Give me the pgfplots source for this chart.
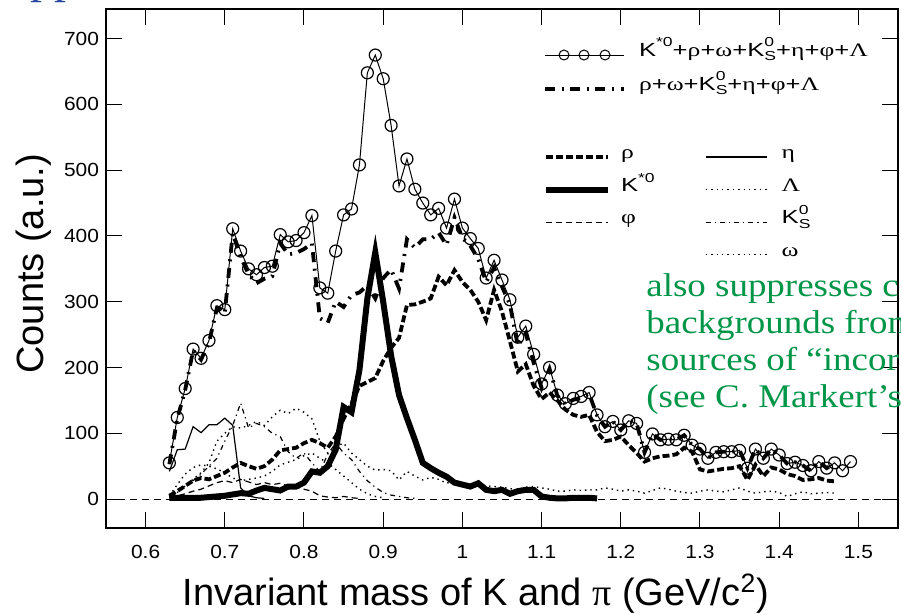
\documentclass[border=0pt]{standalone}
\usepackage{fontspec}
\setmainfont{Liberation Sans}
\newfontfamily\gr{Liberation Serif}
\newfontfamily\tickfont[FakeStretch=1.1]{Liberation Sans}
\newfontfamily\legfont[FakeStretch=1.35]{Liberation Sans}
\newfontfamily\leggr[FakeStretch=1.35]{Liberation Serif}
\newfontfamily\grnfont[FakeStretch=1.12]{Liberation Serif}
\usepackage{pgfplots}
\pgfplotsset{compat=1.18}
\definecolor{slidegreen}{RGB}{0,150,72}
\definecolor{slideblue}{RGB}{40,70,160}
\newcommand{\g}[1]{{\leggr #1}}
\newcommand{\ssz}{\fontsize{6.5}{6.5}\selectfont}
\newcommand{\Kst}{K\raisebox{0.9ex}{\ssz *0}}
\newcommand{\KS}{K\makebox[0pt][l]{\raisebox{0.9ex}{\ssz 0}}\raisebox{-0.45ex}{\ssz S}}
\begin{document}
\begin{tikzpicture}
\begin{axis}[
  scale only axis, width=396pt, height=259.5pt,
  xmin=0.55, xmax=1.55, ymin=-44, ymax=745,
  xtick={0.6,0.7,0.8,0.9,1,1.1,1.2,1.3,1.4,1.5},
  xticklabels={0.6,0.7,0.8,0.9,1,1.1,1.2,1.3,1.4,1.5},
  ytick={0,100,200,300,400,500,600,700},
  tick align=inside, major tick length=8pt,
  every tick/.style={black, line width=0.5pt},
  axis line style={line width=1.4pt},
  /pgf/number format/assume math mode=true,
  ticklabel style={font=\tickfont\fontsize{9.5}{9.5}\selectfont},
  xticklabel style={yshift=-5.2pt},
  xlabel={Invariant mass of K and {\gr π} (GeV/c\textsuperscript{2})},
  ylabel={Counts (a.u.)},
  label style={font=\fontsize{19}{19}\selectfont},
  xlabel style={at={(axis description cs:0.467,-0.1484)}, anchor=base},
  ylabel style={at={(axis description cs:-0.0792,0.509)}, anchor=base},
  clip mode=individual,
  legend cell align=left,
  legend style={draw=none, fill=none, inner sep=0pt, outer sep=0pt, row sep=0pt, column sep=0pt,
    at={(axis description cs:0.5518,0.9441)}, anchor=north west,
    font=\legfont\fontsize{9.5}{9.5}\selectfont,
    nodes={inner sep=0pt, text height=9pt, text depth=8pt}},
]
\coordinate (SW) at (rel axis cs:0,0);
\coordinate (NE) at (rel axis cs:1,1);
% zero line
\addplot[forget plot, black, line width=0.5pt, dash pattern=on 3.5pt off 2.5pt] coordinates {(0.55,0) (1.55,0)};
% eta (thin solid)
\addplot[forget plot, black, line width=0.6pt] coordinates {
(0.63,42)(0.64,75)(0.65,76)(0.66,110)(0.67,101)(0.68,113)(0.69,113)(0.70,123)(0.71,112)(0.72,17)(0.73,5)(0.74,2)(0.75,1)};
% phi (thin dashed)
\addplot[forget plot, black, line width=0.6pt, dash pattern=on 3pt off 2pt] coordinates {
(0.63,2)(0.64,5)(0.65,8)(0.66,12)(0.67,15)(0.68,20)(0.69,25)(0.70,28)(0.71,25)(0.72,30)(0.73,26)(0.74,22)(0.75,25)(0.76,22)(0.77,24)(0.78,20)(0.79,18)(0.80,15)(0.81,12)(0.82,5)(0.83,3)(0.84,2)(0.85,4)(0.86,2)(0.87,1)};
% K0S (thin dash-dot)
\addplot[forget plot, black, line width=0.6pt, dash pattern=on 2.5pt off 2pt on 0.6pt off 2pt] coordinates {
(0.63,3)(0.64,10)(0.65,20)(0.66,28)(0.67,38)(0.68,50)(0.69,62)(0.70,88)(0.71,112)(0.72,146)(0.73,108)(0.74,115)(0.75,110)(0.76,100)(0.77,95)(0.78,72)(0.79,62)(0.80,70)(0.81,55)(0.82,42)(0.83,68)(0.84,85)(0.85,70)(0.86,60)(0.87,42)(0.88,28)(0.89,18)(0.90,10)(0.91,6)(0.92,4)(0.93,2)(0.94,1)};
% Lambda (dotted)
\addplot[forget plot, black, line width=0.7pt, dash pattern=on 0.7pt off 2pt] coordinates {
(0.63,5)(0.64,22)(0.65,38)(0.66,48)(0.67,52)(0.68,50)(0.69,46)(0.70,40)(0.71,32)(0.72,28)(0.73,30)(0.74,32)(0.75,35)(0.76,42)(0.77,52)(0.78,56)(0.79,60)(0.80,66)(0.81,70)(0.82,62)(0.83,55)(0.84,45)(0.85,35)(0.86,25)(0.87,15)(0.88,8)(0.89,4)(0.90,2)};
% omega (dotted)
\addplot[forget plot, black, line width=0.7pt, dash pattern=on 0.7pt off 2pt] coordinates {
(0.63,5)(0.64,12)(0.65,20)(0.66,30)(0.67,40)(0.68,55)(0.69,88)(0.70,100)(0.71,110)(0.72,108)(0.73,112)(0.74,118)(0.75,112)(0.76,125)(0.77,135)(0.78,130)(0.79,138)(0.80,132)(0.81,122)(0.82,88)(0.83,70)(0.84,80)(0.85,85)(0.86,70)(0.87,60)(0.88,50)(0.89,44)(0.90,45)(0.91,43)(0.92,29)(0.93,42)(0.94,35)(0.95,29)(0.96,33)(0.97,30)(0.98,24)(0.99,28)(1.00,25)
(1.01,22)(1.02,24)(1.03,20)(1.04,19)(1.05,18)(1.06,16)(1.07,14)(1.08,18)(1.09,19)(1.10,17)(1.11,15)(1.12,12)(1.13,12)(1.14,14)(1.15,13)(1.16,14)(1.17,14)(1.18,17)(1.19,15)(1.20,12)(1.21,14)(1.22,12)(1.23,9)(1.24,13)(1.25,17)(1.26,15)(1.27,12)(1.28,10)(1.29,9)(1.30,12)(1.31,14)(1.32,12)(1.33,11)(1.34,14)(1.35,17)(1.36,12)(1.37,9)(1.38,11)(1.39,12)(1.40,10)(1.41,4)(1.42,8)(1.43,11)(1.44,8)(1.45,9)(1.46,10)(1.47,9)};
% rho (thick dashed)
\addplot[forget plot, black, line width=1.9pt, dash pattern=on 3.5pt off 1.5pt] coordinates {
(0.63,5)(0.64,12)(0.65,20)(0.66,28)(0.67,32)(0.68,30)(0.69,35)(0.70,40)(0.71,48)(0.72,55)(0.73,50)(0.74,46)(0.75,50)(0.76,60)(0.77,74)(0.78,76)(0.79,78)(0.80,85)(0.81,90)(0.82,85)(0.83,78)(0.84,95)(0.85,122)(0.86,145)(0.87,172)(0.88,178)(0.89,184)(0.90,210)(0.91,230)(0.92,245)(0.93,295)(0.94,296)(0.95,300)(0.96,305)(0.97,338)(0.98,325)(0.99,348)(1.00,330)(1.01,318)(1.02,300)(1.03,272)(1.04,318)(1.05,285)(1.06,240)(1.07,194)(1.08,205)(1.09,172)(1.10,152)(1.11,162)(1.12,150)(1.13,136)(1.14,128)(1.15,125)(1.16,128)(1.17,102)(1.18,88)(1.19,90)(1.20,95)(1.21,82)(1.22,70)(1.23,57)(1.24,62)(1.25,65)(1.26,66)(1.27,68)(1.28,78)(1.29,72)(1.30,45)(1.31,42)(1.32,44)(1.33,46)(1.34,47)(1.35,50)(1.36,29)(1.37,52)(1.38,35)(1.39,48)(1.40,45)(1.41,38)(1.42,35)(1.43,29)(1.44,30)(1.45,32)(1.46,28)(1.47,27)};
% background sum (thick dash-dot)
\addplot[forget plot, black, line width=1.9pt, dash pattern=on 5pt off 3.3pt on 1pt off 3.3pt] coordinates {
(0.63,53)(0.64,122)(0.65,166)(0.66,226)(0.67,212)(0.68,238)(0.69,290)(0.70,283)(0.71,404)(0.72,368)(0.73,342)(0.74,328)(0.75,335)(0.76,339)(0.77,389)(0.78,372)(0.79,374)(0.80,380)(0.81,389)(0.82,275)(0.83,268)(0.84,300)(0.85,292)(0.86,310)(0.87,314)(0.88,325)(0.89,305)(0.90,336)(0.91,349)(0.92,320)(0.93,395)(0.94,382)(0.95,395)(0.96,395)(0.97,405)(0.98,386)(0.99,428)(1.00,397)(1.01,385)(1.02,365)(1.03,330)(1.04,352)(1.05,323)(1.06,296)(1.07,233)(1.08,252)(1.09,207)(1.10,169)(1.11,198)(1.12,157)(1.13,144)(1.14,151)(1.15,154)(1.16,160)(1.17,127)(1.18,110)(1.19,118)(1.20,105)(1.21,119)(1.22,115)(1.23,71)(1.24,99)(1.25,90)(1.26,91)(1.27,90)(1.28,97)(1.29,82)(1.30,76)(1.31,62)(1.32,71)(1.33,72)(1.34,72)(1.35,74)(1.36,47)(1.37,76)(1.38,62)(1.39,76)(1.40,67)(1.41,54)(1.42,56)(1.43,51)(1.44,43)(1.45,57)(1.46,47)(1.47,55)};
% K*0 (very thick solid)
\addplot[forget plot, black, line width=3pt] coordinates {
(0.63,2)(0.64,2)(0.65,2)(0.66,2)(0.67,2)(0.68,3)(0.69,4)(0.70,5)(0.71,7)(0.72,9)(0.73,8)(0.74,13)(0.75,17)(0.76,15)(0.77,13)(0.78,19)(0.79,19)(0.80,25)(0.81,42)(0.82,40)(0.83,50)(0.84,75)(0.85,140)(0.86,132)(0.87,196)(0.88,305)(0.89,375)(0.90,300)(0.91,218)(0.92,158)(0.93,123)(0.94,90)(0.95,55)(0.96,47)(0.97,40)(0.98,34)(0.99,25)(1.00,22)(1.01,19)(1.02,24)(1.03,14)(1.04,12)(1.05,14)(1.06,8)(1.07,12)(1.08,14)(1.09,14)(1.10,4)(1.11,2)(1.12,1)(1.13,1)(1.14,2)(1.15,2)(1.16,2)(1.17,1)};
% total (circles)
\addplot[forget plot, black, line width=0.5pt, mark=o, mark size=3pt, mark options={line width=0.6pt}] coordinates {
(0.63,55)(0.64,124)(0.65,168)(0.66,228)(0.67,214)(0.68,241)(0.69,294)(0.70,288)(0.71,411)(0.72,377)(0.73,350)(0.74,341)(0.75,352)(0.76,354)(0.77,402)(0.78,391)(0.79,393)(0.80,405)(0.81,431)(0.82,321)(0.83,313)(0.84,377)(0.85,432)(0.86,441)(0.87,508)(0.88,648)(0.89,675)(0.90,639)(0.91,568)(0.92,476)(0.93,517)(0.94,471)(0.95,450)(0.96,432)(0.97,442)(0.98,412)(0.99,456)(1.00,412)(1.01,396)(1.02,381)(1.03,336)(1.04,363)(1.05,333)(1.06,303)(1.07,246)(1.08,263)(1.09,220)(1.10,175)(1.11,200)(1.12,158)(1.13,145)(1.14,153)(1.15,156)(1.16,162)(1.17,128)(1.18,110)(1.19,118)(1.20,105)(1.21,119)(1.22,115)(1.23,71)(1.24,99)(1.25,90)(1.26,91)(1.27,90)(1.28,97)(1.29,82)(1.30,76)(1.31,62)(1.32,71)(1.33,72)(1.34,72)(1.35,74)(1.36,47)(1.37,76)(1.38,62)(1.39,76)(1.40,67)(1.41,54)(1.42,56)(1.43,51)(1.44,43)(1.45,57)(1.46,47)(1.47,55)(1.48,43)(1.49,57)};
% legend (top block)
\addlegendimage{legend image code/.code={\draw[black, line width=0.5pt] (0pt,0pt)--(39.5pt,0pt);
  \draw[black, line width=0.5pt] (9.5pt,0pt) circle (2.5pt) (19.5pt,0pt) circle (2.5pt) (30pt,0pt) circle (2.5pt);
  \path[draw=none] (47pt,0pt);}}
\addlegendentry{\Kst+\g{ρ}+\g{ω}+\KS+\g{η}+\g{φ}+\g{Λ}}
\addlegendimage{legend image code/.code={\draw[black, line width=2pt, dash pattern=on 5pt off 3.3pt on 1pt off 3.3pt] (0pt,0pt)--(39.5pt,0pt);
  \path[draw=none] (47pt,0pt);}}
\addlegendentry{\g{ρ}+\g{ω}+\KS+\g{η}+\g{φ}+\g{Λ}}
% slide overlay text
\node[anchor=base west, inner sep=0pt, text=slidegreen, font=\grnfont\fontsize{16.5}{16.5}\selectfont] at (axis description cs:0.6818,0.4470) {also suppresses c};
\node[anchor=base west, inner sep=0pt, text=slidegreen, font=\grnfont\fontsize{16.5}{16.5}\selectfont] at (axis description cs:0.6818,0.3757) {backgrounds from};
\node[anchor=base west, inner sep=0pt, text=slidegreen, font=\grnfont\fontsize{16.5}{16.5}\selectfont] at (axis description cs:0.6818,0.3044) {sources of “incor};
\node[anchor=base west, inner sep=0pt, text=slidegreen, font=\grnfont\fontsize{16.5}{16.5}\selectfont] at (axis description cs:0.6818,0.2331) {(see C. Markert’s};
\node[anchor=base west, inner sep=0pt, text=slideblue, font=\gr\fontsize{24}{24}\selectfont] at (axis description cs:-0.096,1.0316) {pp};
\end{axis}
\begin{axis}[
  scale only axis, width=396pt, height=259.5pt,
  xmin=0.55, xmax=1.55, ymin=-44, ymax=745, hide axis,
  legend columns=2, legend cell align=left,
  legend style={draw=none, fill=none, inner sep=0pt, outer sep=0pt, row sep=0pt, column sep=0pt,
    at={(axis description cs:0.5518,0.7463)}, anchor=north west,
    font=\legfont\fontsize{9.5}{9.5}\selectfont,
    nodes={inner sep=0pt, text height=9pt, text depth=7.3pt}},
]
\addlegendimage{legend image code/.code={\draw[black, line width=1.9pt, dash pattern=on 3.5pt off 1.5pt] (0pt,0pt)--(31pt,0pt); \path[draw=none] (37.5pt,0pt);}}
\addlegendentry{\makebox[42pt][l]{\g{ρ}}}
\addlegendimage{legend image code/.code={\draw[black, line width=0.6pt] (0pt,0pt)--(30.5pt,0pt); \path[draw=none] (38pt,0pt);}}
\addlegendentry{\g{η}}
\addlegendimage{legend image code/.code={\draw[black, line width=3pt] (0pt,0pt)--(31pt,0pt); \path[draw=none] (37.5pt,0pt);}}
\addlegendentry{\makebox[42pt][l]{\Kst}}
\addlegendimage{legend image code/.code={\draw[black, line width=0.7pt, dash pattern=on 0.7pt off 2pt] (0pt,0pt)--(30.5pt,0pt); \path[draw=none] (38pt,0pt);}}
\addlegendentry{\g{Λ}}
\addlegendimage{legend image code/.code={\draw[black, line width=0.6pt, dash pattern=on 3pt off 2pt] (0pt,0pt)--(31pt,0pt); \path[draw=none] (37.5pt,0pt);}}
\addlegendentry{\makebox[42pt][l]{\g{φ}}}
\addlegendimage{legend image code/.code={\draw[black, line width=0.6pt, dash pattern=on 2.5pt off 2pt on 0.6pt off 2pt] (0pt,0pt)--(30.5pt,0pt); \path[draw=none] (38pt,0pt);}}
\addlegendentry{\KS}
\addlegendimage{legend image code/.code={\path[draw=none] (0pt,0pt) (37.5pt,0pt);}}
\addlegendentry{\makebox[42pt][l]{}}
\addlegendimage{legend image code/.code={\draw[black, line width=0.7pt, dash pattern=on 0.7pt off 2pt] (0pt,0pt)--(30.5pt,0pt); \path[draw=none] (38pt,0pt);}}
\addlegendentry{\g{ω}}
\end{axis}
\pgfresetboundingbox
\useasboundingbox ([xshift=-53pt,yshift=-43pt]SW) rectangle ([xshift=1.5pt,yshift=4.5pt]NE);
\end{tikzpicture}
\end{document}
